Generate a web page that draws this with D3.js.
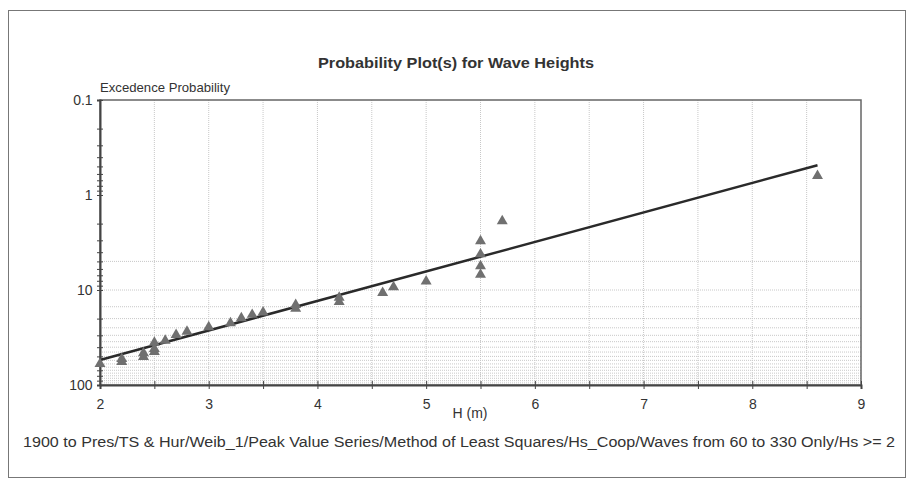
<html>

<head>
    <script src="https://cdnjs.cloudflare.com/ajax/libs/d3/7.1.1/d3.js"></script>
    <style>
        body { margin: 0; background: #fff; }
        text { font-family: 'Liberation Sans', Arial, sans-serif; fill: #333; }
    </style>
</head>

<body>
    <script>
        // observed peak wave heights and their plotted excedence probability
        const waveH = [2.0, 2.2, 2.2, 2.4, 2.4, 2.5, 2.5, 2.5, 2.6, 2.7, 2.8, 3.0, 3.2, 3.3, 3.4, 3.5,
            3.8, 3.8, 4.2, 4.2, 4.6, 4.7, 5.0, 5.5, 5.5, 5.5, 5.5, 5.7, 8.6];
        const excProb = [60, 57, 53, 50.6, 46, 44.8, 41.7, 35.7, 34, 29.6, 27.4, 24.6, 22.3, 19.7, 18.2, 17.2,
            15.7, 14.3, 13.3, 12, 10.7, 9.3, 8.1, 6.9, 5.6, 4.2, 3.06, 1.88, 0.63];

        // least squares fit line end points
        const fitH = [2.0, 8.6];
        const fitP = [54.5, 0.486];

        const xTicks = [2, 3, 4, 5, 6, 7, 8, 9];
        const yTicks = [0.1, 1, 10, 100];
        const gridH = d3.range(2.5, 9, 0.5);
        const gridP = d3.range(5, 100, 5);

        const width = 912;
        const height = 490;
        const plot = { left: 100, right: 861, top: 100, bottom: 385 };

        const svg = d3.select('body').append('svg')
            .attr('width', width)
            .attr('height', height);

        // outer frame
        svg.append('rect')
            .attr('x', 8.5).attr('y', 10.5)
            .attr('width', 897).attr('height', 467)
            .attr('fill', 'none')
            .attr('stroke', '#777');

        const x = d3.scaleLinear().domain([2, 9]).range([plot.left, plot.right]);
        const y = d3.scaleLog().domain([0.1, 100]).range([plot.top, plot.bottom]);

        // grid
        svg.append('g').selectAll('line')
            .data(gridH)
            .enter().append('line')
            .attr('x1', d => x(d)).attr('x2', d => x(d))
            .attr('y1', plot.top).attr('y2', plot.bottom)
            .attr('stroke', '#c8c8c8')
            .attr('stroke-dasharray', '1,1');

        svg.append('g').selectAll('line')
            .data(gridP)
            .enter().append('line')
            .attr('x1', plot.left).attr('x2', plot.right)
            .attr('y1', d => y(d)).attr('y2', d => y(d))
            .attr('stroke', '#c8c8c8')
            .attr('stroke-dasharray', '1,1');

        // plot border
        svg.append('rect')
            .attr('x', plot.left).attr('y', plot.top)
            .attr('width', plot.right - plot.left).attr('height', plot.bottom - plot.top)
            .attr('fill', 'none')
            .attr('stroke', '#666')
            .attr('stroke-width', 1.5);

        // x axis: labels at whole metres, ticks every half metre
        const xAxis = svg.append('g')
            .attr('transform', `translate(0, ${plot.bottom})`)
            .call(d3.axisBottom(x).tickValues(d3.range(2, 9.01, 0.5)).tickSize(4)
                .tickFormat(d => xTicks.includes(d) ? d : ''));
        xAxis.select('.domain').attr('stroke', '#444').attr('stroke-width', 2);
        xAxis.selectAll('.tick line').attr('y1', -4).attr('stroke', '#444');
        xAxis.selectAll('.tick text').attr('dy', '1.2em').attr('font-size', 14).style('fill', '#333');

        // y axis: log decades with minor ticks
        const minor = [];
        for (let dec = 0.1; dec < 100; dec *= 10) {
            for (let k = 1; k <= 9; k++) minor.push(+(dec * k).toPrecision(3));
        }
        minor.push(100);
        const yAxis = svg.append('g')
            .attr('transform', `translate(${plot.left}, 0)`)
            .call(d3.axisLeft(y).tickValues(minor).tickSize(3)
                .tickFormat(d => yTicks.includes(d) ? d : ''));
        yAxis.select('.domain').attr('stroke', '#444').attr('stroke-width', 2);
        yAxis.selectAll('.tick line').attr('x1', 3).attr('stroke', '#444');
        yAxis.selectAll('.tick text').attr('font-size', 14).attr('dx', '-0.1em').style('fill', '#333');

        // fit line
        svg.append('path')
            .datum(fitH.map((h, i) => [h, fitP[i]]))
            .attr('fill', 'none')
            .attr('stroke', '#2a2a2a')
            .attr('stroke-width', 2.5)
            .attr('d', d3.line().x(d => x(d[0])).y(d => y(d[1])));

        // observed points
        svg.append('g').selectAll('path')
            .data(waveH.map((h, i) => [h, excProb[i]]))
            .enter().append('path')
            .attr('transform', d => `translate(${x(d[0])}, ${y(d[1])})`)
            .attr('d', d3.symbol().type(d3.symbolTriangle).size(52))
            .attr('fill', '#707070');

        // texts (stretched to the reference's wider lettering)
        svg.append('text')
            .text('Probability Plot(s) for Wave Heights')
            .attr('x', 456).attr('y', 68)
            .attr('text-anchor', 'middle')
            .attr('font-size', 15)
            .attr('font-weight', 'bold')
            .attr('textLength', 276)
            .attr('lengthAdjust', 'spacingAndGlyphs');

        svg.append('text')
            .text('Excedence Probability')
            .attr('x', 100).attr('y', 92)
            .attr('font-size', 13)
            .attr('textLength', 130)
            .attr('lengthAdjust', 'spacingAndGlyphs');

        svg.append('text')
            .text('H (m)')
            .attr('x', 470).attr('y', 418)
            .attr('text-anchor', 'middle')
            .attr('font-size', 14);

        svg.append('text')
            .text('1900 to Pres/TS & Hur/Weib_1/Peak Value Series/Method of Least Squares/Hs_Coop/Waves from 60 to 330 Only/Hs >= 2')
            .attr('x', 459).attr('y', 447)
            .attr('text-anchor', 'middle')
            .attr('font-size', 14)
            .attr('textLength', 872)
            .attr('lengthAdjust', 'spacingAndGlyphs');
    </script>
</body>

</html>
